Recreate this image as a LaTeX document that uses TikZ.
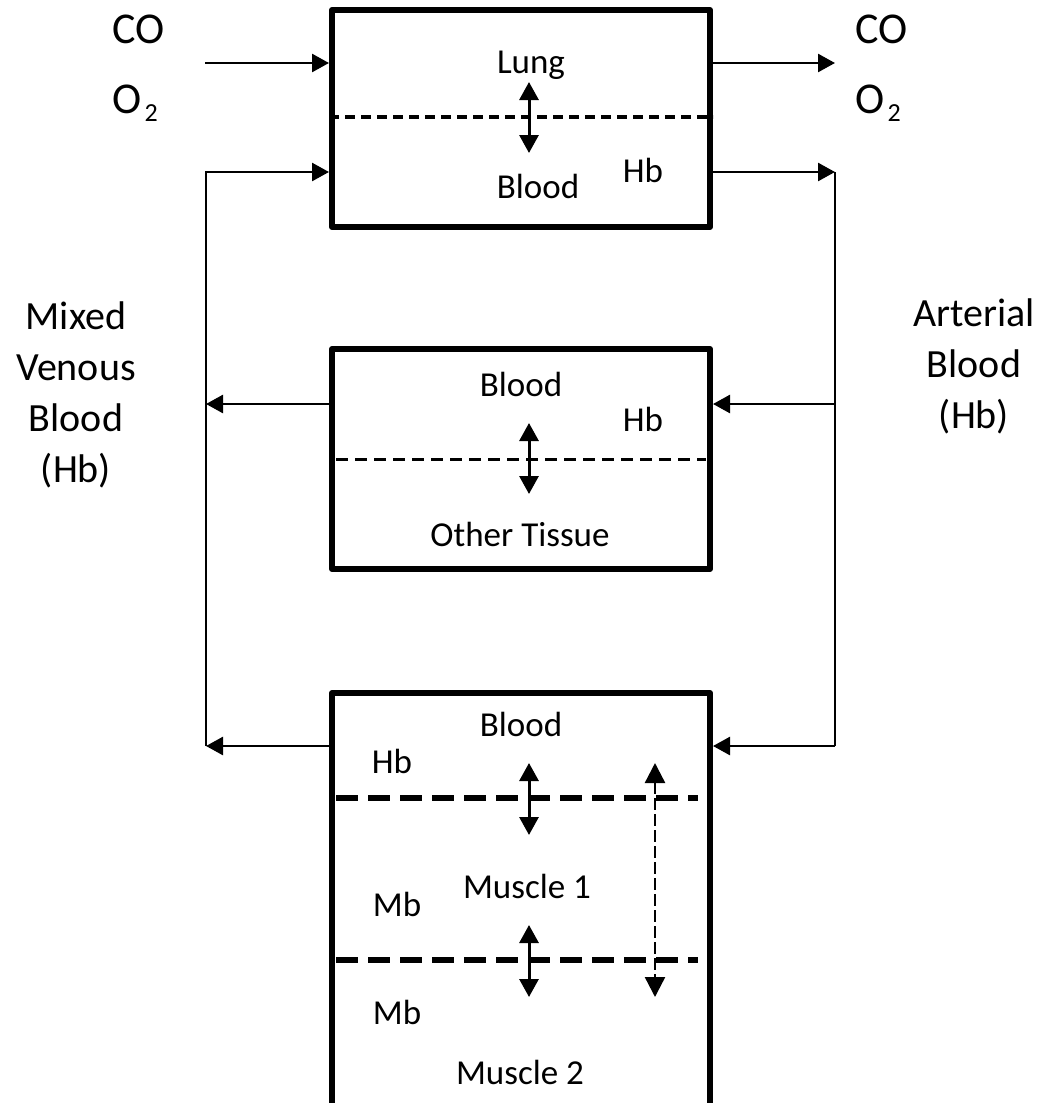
\documentclass[tikz,border=0pt]{standalone}
\usepackage{fontspec}
\setmainfont{Carlito}
\usetikzlibrary{arrows.meta}

\begin{document}
\begin{tikzpicture}[x=0.5pt, y=-0.5pt, >={Triangle[length=8.5pt, width=9pt]},
  box/.style={draw, line width=3pt, line join=round, minimum width=189pt, inner sep=0pt},
  lbl/.style={font=\fontsize{17.5}{21}\selectfont, anchor=base, inner sep=0pt},
  gas/.style={font=\fontsize{22}{26}\selectfont, anchor=base west, inner sep=0pt},
  side/.style={font=\fontsize{20}{25.5}\selectfont, align=center, anchor=base, inner sep=0pt},
  flow/.style={->, line width=1.3pt},
  xchg/.style={<->, line width=1.5pt, >={Triangle[length=9pt, width=9.5pt]}},
  thinsep/.style={line width=1.5pt, dash pattern=on 6pt off 3.5pt},
  lungsep/.style={line width=2pt, dash pattern=on 5pt off 3pt},
  thicksep/.style={line width=3pt, dash pattern=on 11pt off 5pt}]

\useasboundingbox (0,0) rectangle (1042,1103);
\clip (0,0) rectangle (1042,1103);

% --- Compartments ---
\node[box, minimum height=108.5pt] (lung) at (521,118.5) {};
\node[box, minimum height=110pt] (tissue) at (521,459) {};
\node[box, minimum height=211pt] (muscle) at (521,904) {};

% Lung / blood
\draw[lungsep] (lung.west |- 0,117) -- (lung.east |- 0,117);
\draw[xchg] (529,82) -- (529,153);
\node[lbl] (lungtxt) at (531,73) {Lung};
\node[lbl] (lungblood) at (538,198) {Blood};
\node[lbl] (lunghb) at (643,182) {Hb};

% Blood / other tissue
\draw[thinsep] (336,459) -- (706,459);
\draw[xchg] (529,423) -- (529,494);
\node[lbl] (tisblood) at (521,396) {Blood};
\node[lbl] (tishb) at (643,431) {Hb};
\node[lbl] (tistxt) at (520,546) {Other Tissue};

% Blood / muscle 1 / muscle 2
\draw[thicksep] (336,798) -- (698,798);
\draw[thicksep] (336,960) -- (698,960);
\draw[xchg] (529,763) -- (529,835);
\draw[xchg] (529,925) -- (529,997);
\draw[<->, line width=1.2pt, dash pattern=on 6pt off 2pt, >={Triangle[length=10pt, width=10pt]}] (655,763) -- (655,997);
\node[lbl] (musblood) at (521,736) {Blood};
\node[lbl] (mushb) at (392,773) {Hb};
\node[lbl] (mustxtA) at (527,898) {Muscle 1};
\node[lbl] (musmbA) at (397,916) {Mb};
\node[lbl] (musmbB) at (397,1024) {Mb};
\node[lbl] (mustxtB) at (520,1084) {Muscle 2};

% --- Gas in / out ---
\coordinate (gasin) at (205,63);
\coordinate (gasout) at (835,63);
\draw[flow] (gasin) -- (gasin -| lung.west);
\draw[flow] (lung.east |- gasout) -- (gasout);
\node[gas] (coin) at (112,43) {CO};
\node[gas] (oxin) at (112,113) {O\kern1.5pt\raisebox{-4pt}{\fontsize{13}{13}\selectfont 2}};
\node[gas] (coout) at (855,43) {CO};
\node[gas] (oxout) at (855,113) {O\kern1.5pt\raisebox{-4pt}{\fontsize{13}{13}\selectfont 2}};

% --- Venous return (left) ---
\coordinate (vtop) at (206,172);
\coordinate (vmid) at (206,404);
\coordinate (vbot) at (206,746);
\draw[flow] (vbot) -- (vtop) -- (vtop -| lung.west);
\draw[flow] (tissue.west |- vmid) -- (vmid);
\draw[flow] (muscle.west |- vbot) -- (vbot);

% --- Arterial supply (right) ---
\coordinate (atop) at (835,172);
\coordinate (amid) at (835,404);
\coordinate (abot) at (835,746);
\draw[flow] (lung.east |- atop) -- (atop);
\draw[line width=1.3pt] (atop) -- (abot);
\draw[flow] (amid) -- (amid -| tissue.east);
\draw[flow] (abot) -- (abot -| muscle.east);

% --- Side labels ---
\node[side] (venous) at (76,482) {Mixed\\Venous\\Blood\\(Hb)};
\node[side] (arterial) at (974,428) {Arterial\\Blood\\(Hb)};

\end{tikzpicture}
\end{document}
